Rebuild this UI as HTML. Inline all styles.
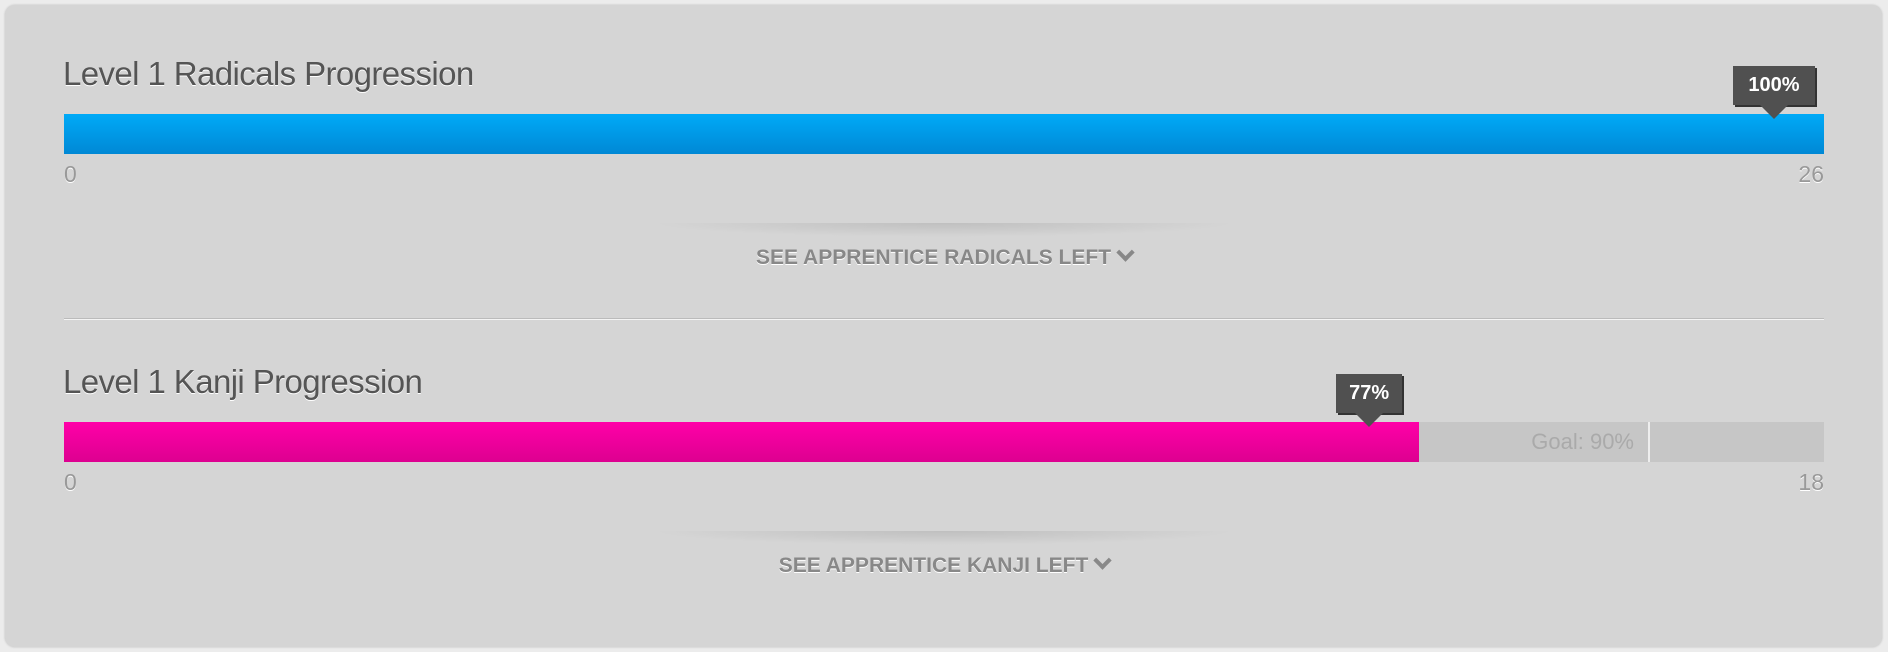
<!DOCTYPE html>
<html><head><meta charset="utf-8"><style>
body{margin:0;width:1888px;height:652px;background:#ececec;font-family:"Liberation Sans",sans-serif;position:relative;overflow:hidden}
#panel{position:absolute;left:5px;top:5px;width:1877px;height:642px;background:#d5d5d5;border-radius:10px;box-shadow:0 0 2px #bbb}
.title{position:absolute;left:63px;font-size:33px;color:#555;letter-spacing:-0.6px;text-shadow:0 1px 0 #fff}
.track{position:absolute;left:64px;width:1760px;height:40px;background:#c6c6c6}
.fill{position:absolute;left:0;top:0;height:40px}
.lbl{position:absolute;font-size:23px;color:#999;text-shadow:0 1px 0 #fff}
.tip{position:absolute;height:39px;background:#505050;color:#fff;font-weight:bold;font-size:20px;line-height:39px;text-align:center;box-shadow:2px 2px 0 #333}
.tip:after{content:"";position:absolute;left:50%;margin-left:-14px;bottom:-14px;border-left:14px solid transparent;border-right:14px solid transparent;border-top:14px solid #505050}
.btn{position:absolute;left:600px;width:688px;text-align:center;font-weight:bold;font-size:21px;color:#888;text-shadow:0 1px 0 #fff}
.chev{display:inline-block;width:9px;height:9px;border-right:4px solid #888;border-bottom:4px solid #888;transform:rotate(45deg);margin-left:8px;position:relative;top:-5px}
.shadow{position:absolute;left:650px;width:588px;height:14px;background:radial-gradient(ellipse at 50% 0%,rgba(0,0,0,0.10),rgba(0,0,0,0) 70%)}
.goal{position:absolute;top:0;width:2px;height:40px;background:#eee}
.goaltxt{position:absolute;top:0;line-height:40px;font-size:22px;color:#aaa;text-align:right}
</style></head><body>
<div id="panel"></div>
<div id="root"></div>
<script>
const titles=["Level 1 Radicals Progression","Level 1 Kanji Progression"];
const percents=[100,77];
const maxima=[26,18];
const goals=[null,90];
const buttons=["SEE APPRENTICE RADICALS LEFT","SEE APPRENTICE KANJI LEFT"];
const colors=[["#00aaf7","#0088d5"],["#ff00a8","#dd0090"]];
const root=document.getElementById('root');
const W=1760,X0=64;
function xs(p){return p/100*W;}
[0,1].forEach(i=>{
  const oy=i===0?0:308;
  const t=document.createElement('div');t.className='title';t.style.top=(55+oy)+'px';t.textContent=titles[i];
  
  
  root.appendChild(t);
  const tr=document.createElement('div');tr.className='track';tr.style.top=(114+oy)+'px';
  
  
  if(i===0)tr.style.background='transparent';
  const f=document.createElement('div');f.className='fill';f.style.width=xs(percents[i])+'px';
  f.style.background='linear-gradient('+colors[i][0]+','+colors[i][1]+')';
  
  
  tr.appendChild(f);
  if(goals[i]!=null){
    const g=document.createElement('div');g.className='goal';g.style.left=xs(goals[i])+'px';
    
    
    tr.appendChild(g);
    const gt=document.createElement('div');gt.className='goaltxt';gt.style.left='0';gt.style.width=(xs(goals[i])-14)+'px';gt.textContent='Goal: '+goals[i]+'%';
    
    
    tr.appendChild(gt);
  }
  root.appendChild(tr);
  const tip=document.createElement('div');tip.className='tip';
  const tw=percents[i]===100?82:66;
  tip.style.width=tw+'px';
  tip.style.left=(X0+xs(percents[i])-50-tw/2)+'px';tip.style.top=(66+oy)+'px';tip.textContent=percents[i]+'%';
  
  
  root.appendChild(tip);
  const l0=document.createElement('div');l0.className='lbl';l0.style.left=X0+'px';l0.style.top=(161+oy)+'px';l0.textContent='0';
  
  
  root.appendChild(l0);
  const l1=document.createElement('div');l1.className='lbl';l1.style.right=(1888-X0-W)+'px';l1.style.top=(161+oy)+'px';l1.textContent=maxima[i];
  
  
  root.appendChild(l1);
  const sh=document.createElement('div');sh.className='shadow';sh.style.top=(223+oy)+'px';
  
  
  root.appendChild(sh);
  const b=document.createElement('div');b.className='btn';b.style.top=(246+oy)+'px';b.innerHTML=buttons[i]+'<span class="chev"></span>';
  
  
  root.appendChild(b);
});
const d=document.createElement('div');d.style.cssText='position:absolute;left:64px;top:318px;width:1760px;height:1px;background:#bbb;border-bottom:1px solid #f4f4f4';


root.appendChild(d);
</script>
</body></html>
